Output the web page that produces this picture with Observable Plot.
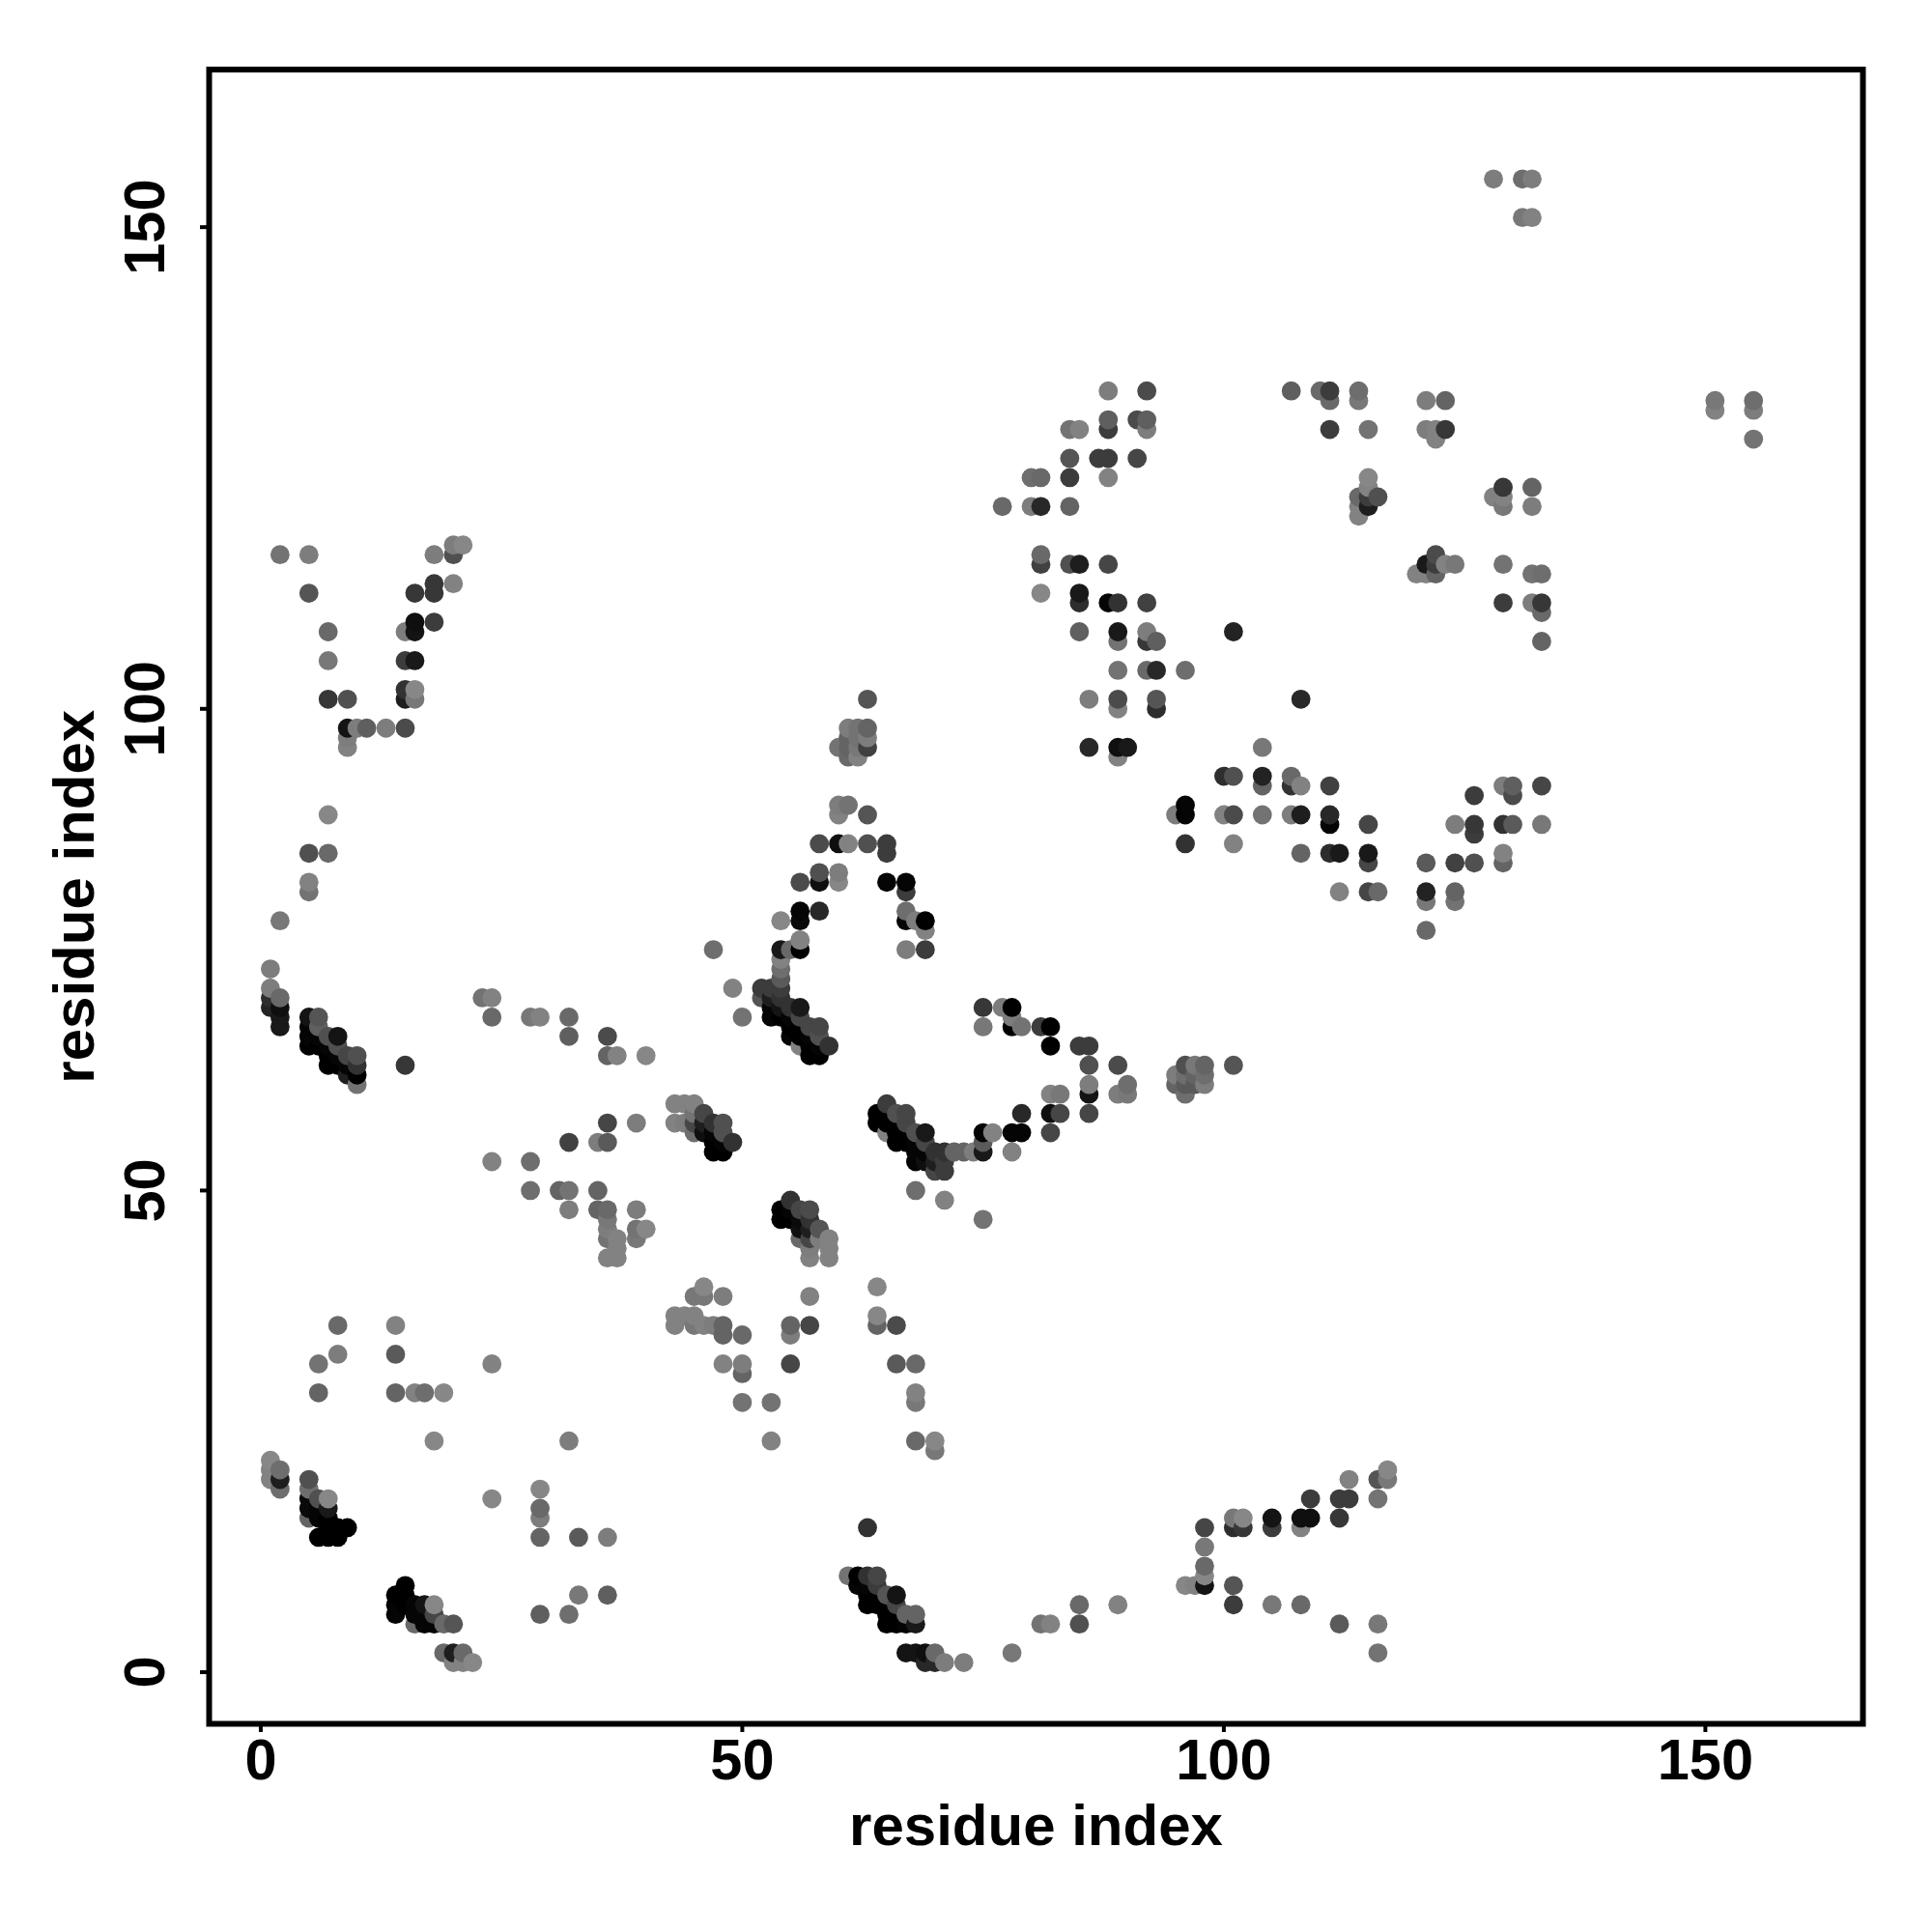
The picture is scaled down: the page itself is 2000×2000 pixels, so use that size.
<!DOCTYPE html>
<html>
<head>
<meta charset="utf-8">
<script src="https://cdn.jsdelivr.net/npm/d3@7"></script>
<script src="https://cdn.jsdelivr.net/npm/@observablehq/plot@0.6"></script>
<style>
html,body{margin:0;padding:0;background:#fff}
svg{display:block}
</style>
</head>
<body>
<div id="chart"></div>
<script>
const axisTicks = [0, 50, 100, 150];
const axisLabel = "residue index";
// each entry: [residue i, residue j, score]
const bottomLeft = [
[8,36,105],[14,36,130],[8,33,125],[6,32,115],[14,33,90],[24,32,130],[6,29,100],[14,29,100],[16,29,130],[17,29,110],[19,29,135],[18,24,135],[32,24,125],
[1,22,135],[1,21,130],[1,20,130],[2,21,110],[2,20,30],[2,19,110],[5,20,80],[5,19,110],[6,18,80],[7,18,135],[5,18,10],[5,17,10],[7,17,25],[6,17,5],[5,16,100],[6,16,5],[7,16,0],[8,15,0],[9,15,0],[7,15,0],[6,14,0],[7,14,0],[8,14,0],
[24,18,135],[29,19,135],[29,17,105],[29,16,125],[29,14,100],[33,14,90],[36,14,125],
[15,9,0],[14,8,0],[15,8,0],[14,7,5],[15,7,0],[16,7,5],[17,7,20],[18,7,135],[14,6,5],[16,6,5],[17,6,5],[18,6,70],[16,5,105],[17,5,5],[18,5,5],[19,5,105],[20,5,85],
[33,8,120],[36,8,95],[29,6,95],[32,6,110],[19,2,105],[20,2,30],[21,2,105],[20,1,130],[21,1,130],[22,1,135]
];
const midLower = [
[32,48,125],[35,48,100],[36,48,105],[36,47,120],[36,46,125],[36,45,115],[37,45,130],[37,44,130],[36,43,130],[37,43,130],[39,48,125],[39,46,115],[40,46,135],[39,45,120],
[46,40,135],[45,39,120],[46,39,120],[48,39,125],[43,37,130],[44,37,130],[45,37,130],[43,36,130],[45,36,120],[46,36,130],[47,36,125],[48,36,100],[48,35,100],[48,32,130],
[50,35,105],[57,39,130],[64,40,135],[55,36,100],[55,35,125],[57,36,70],[64,37,135],[64,36,100],[66,36,75],[50,32,125],[50,31,100],[55,32,70],[66,32,90],[68,32,105],[68,29,130],[68,28,120],[50,28,115],[53,28,115],[53,24,130],[68,24,105],[70,24,135],[70,23,120]
];
const bottomMiddle = [
[63,15,50],[61,10,115],[62,10,0],[63,10,50],[64,10,70],[62,9,5],[63,9,5],[64,9,60],[63,8,0],[64,8,0],[65,8,85],[66,8,20],[63,7,0],[64,7,0],[65,7,0],[66,7,70],[65,6,0],[66,6,0],[67,6,100],[68,6,100],[65,5,0],[66,5,0],[67,5,5],[68,5,25],
[67,2,20],[68,2,20],[69,2,15],[70,2,105],[69,1,40],[70,1,40],[71,1,125],[73,1,125],[78,2,120],[81,5,115],[82,5,130],[85,7,105],[85,5,80],[89,7,130]
];
const bottomRight = [
[98,15,70],[98,13,120],[98,11,105],[98,10,135],[98,9,20],[96,9,135],[97,9,130],
[101,16,120],[102,16,135],[101,15,45],[102,15,55],[105,16,20],[105,15,60],[108,16,15],[109,16,15],[108,15,130],[109,18,60],[112,18,60],[113,18,60],[112,16,55],[113,20,130],[116,20,85],[117,21,135],[117,20,120],[116,18,115],
[101,9,85],[101,7,60],[105,7,120],[108,7,105],[112,5,90],[116,5,120],[116,2,115]
];
const leftBand = [
[1,73,125],[1,71,125],[1,70,45],[2,70,105],[1,69,35],[2,69,15],[2,68,25],[2,67,25],[5,68,20],[6,68,85],[5,67,5],[6,67,95],[5,66,5],[6,66,5],[7,66,80],[8,66,20],[5,65,0],[6,65,0],[7,65,5],[8,65,80],[7,64,0],[8,64,5],[9,64,70],[10,64,80],[7,63,0],[8,63,0],[9,63,5],[10,63,50],[9,62,30],[10,62,0],[10,61,115],[15,63,55],
[23,70,115],[24,70,130],[24,68,105],[28,68,120],[29,68,130],[32,68,105],[32,66,95],[36,66,75],[36,64,100],[37,64,130],[40,64,135],
[36,57,70],[39,57,125],[32,55,65],[35,55,125],[36,55,90],[24,53,130],[28,53,110],[28,50,110],[31,50,100],[32,50,115],[35,50,100]
];
const centreBands = [
[47,75,110],[49,71,130],[50,68,115],[54,75,25],[55,75,105],[56,76,130],[56,75,0],[54,74,130],[54,73,110],[54,72,90],[52,71,60],[53,71,60],[54,71,60],[52,70,85],[53,70,30],[54,70,50],[56,69,25],[53,69,5],[54,69,20],[55,69,50],[53,68,5],[54,68,0],[55,68,5],[56,68,70],[55,67,0],[56,67,0],[57,67,70],[58,67,70],[55,66,5],[56,66,0],[57,66,5],[58,66,80],[56,65,130],[57,65,0],[58,65,5],[59,65,50],[57,64,0],[58,64,0],
[43,59,130],[44,59,130],[45,59,130],[46,58,70],[45,58,115],[43,57,130],[44,57,125],[45,57,70],[46,57,30],[47,57,50],[48,57,80],[45,56,110],[46,56,15],[47,56,5],[48,56,80],[47,55,0],[48,55,5],[49,55,50],[47,54,0],[48,54,0],
[55,49,50],[54,48,0],[55,48,5],[56,48,70],[57,48,75],[54,47,0],[55,47,0],[56,47,10],[57,47,50],[56,46,15],[57,46,30],[58,46,85],[56,45,105],[57,45,70],[58,45,125],[59,45,130],[57,44,125],[59,44,130],[57,43,130],[59,43,130]
];
const rightBand = [
[65,59,60],[64,58,0],[65,58,0],[66,58,80],[67,58,70],[64,57,0],[65,57,0],[66,57,0],[67,57,70],[65,56,130],[66,56,0],[67,56,0],[68,56,80],[69,56,25],[66,55,0],[67,55,0],[68,55,5],[69,55,70],[68,54,5],[69,54,5],[70,54,50],[71,54,50],[72,54,100],[73,54,100],[74,54,125],[68,53,5],[69,53,15],[70,53,30],[71,53,60],[70,52,70],[71,52,60],[68,50,110],[71,49,130],[75,47,115],
[75,69,55],[77,69,125],[78,69,0],[75,67,120],[78,68,125],[78,67,0],[79,67,115],[81,67,60],[82,67,0],[82,65,0],[85,65,60],[86,65,60],[86,63,80],[89,63,75],[86,61,125],[86,60,20],[82,60,130],[83,60,120],[89,60,125],[90,60,120],[90,61,110],[86,58,70],[79,58,40],[82,58,15],[83,58,70],[75,56,5],[76,56,130],[78,56,5],[79,56,5],[82,56,70],[75,55,90],[75,54,25],[78,54,130],
[96,63,80],[97,63,120],[98,63,100],[95,62,125],[96,62,110],[97,62,100],[98,62,110],[95,61,100],[96,61,90],[97,61,90],[98,61,125],[96,60,110],[101,63,85]
];
const peak = [
[63,101,85],[61,98,125],[62,98,115],[63,98,100],[61,97,100],[62,97,115],[63,97,125],[60,96,115],[61,96,100],[62,96,120],[63,96,65],[61,95,105],[62,95,130],[60,90,125],[61,90,115],[60,89,130],[63,89,85],[58,86,75],[60,86,15],[61,86,130],[63,86,80],[65,86,60],[65,85,60],[58,83,80],[60,83,125],[58,82,15],[60,82,135],[56,82,75],[65,82,5],[67,82,5],[67,81,60],[56,79,5],[58,79,40],[67,79,110],[56,78,10],[54,78,135],[67,78,5],[68,78,125],[69,78,0],[69,77,130],[56,76,130],[67,75,125],[69,75,60]
];
const topLeft = [
[2,116,115],[5,116,125],[5,112,85],[7,108,105],[7,105,120],[7,101,55],[9,101,80],[9,98,20],[10,98,125],[11,98,95],[13,98,125],[15,98,75],[9,97,125],[9,96,130],[7,89,135],[5,85,80],[7,85,105],[5,82,130],[5,81,115],[2,78,120],
[18,116,125],[20,116,80],[20,117,125],[21,117,135],[16,112,55],[18,113,55],[18,112,55],[20,113,130],[16,109,15],[18,109,60],[16,108,20],[15,108,125],[15,105,60],[16,105,25],[15,102,50],[16,102,135],[15,101,30],[16,101,120]
];
const rightMiddle = [
[104,96,120],[100,93,45],[101,93,80],[104,93,35],[104,92,100],[107,93,105],[107,92,50],[108,92,130],[111,92,65],[96,90,5],[96,89,5],[95,89,125],[100,89,130],[101,89,75],[104,89,115],[107,89,125],[108,89,30],[111,89,40],[111,88,5],[115,88,70],[96,86,50],[101,86,130],[108,85,100],[111,85,45],[112,85,25],[115,85,25],[115,84,70],[112,81,130],[115,81,70],[116,81,105],
[121,84,90],[124,84,65],[126,84,80],[129,84,100],[129,85,130],[121,81,35],[121,80,120],[124,81,100],[124,80,115],[121,77,105],[126,91,60],[129,92,125],[130,92,95],[130,91,75],[133,92,70],[124,88,125],[126,88,55],[126,87,60],[129,88,50],[130,88,90],[133,88,120]
];
const upperMiddle = [
[88,133,125],[92,133,75],[88,130,95],[88,129,60],[91,130,75],[92,130,95],[92,129,125],[84,129,115],[85,129,130],[84,126,85],[87,126,60],[88,126,60],[91,126,70],[80,124,110],[81,124,105],[84,124,60],[88,124,130],[77,121,105],[80,121,125],[81,121,40],[84,121,100],
[81,116,105],[81,115,65],[84,115,80],[85,115,30],[88,115,70],[81,112,135],[85,112,25],[85,111,45],[88,111,5],[89,111,50],[92,111,65],[85,108,95],[89,108,25],[89,107,115],[92,108,125],[92,107,55],[93,107,95],[101,108,35],[89,104,115],[92,104,105],[93,104,40],[96,104,110],[86,101,125],[89,101,75],[89,100,130],[93,101,85],[93,100,45],[86,96,40],[89,96,15],[90,96,25],[89,95,130],[108,101,40]
];
const upperRight = [
[107,133,95],[110,133,105],[111,133,60],[111,132,105],[114,133,110],[114,132,120],[111,129,60],[115,129,115],[121,132,125],[123,132,100],[121,129,125],[122,129,130],[123,129,55],[122,128,130],
[115,124,135],[115,123,130],[114,122,105],[115,122,60],[116,122,80],[114,121,130],[115,121,30],[114,120,130],[129,123,55],[132,123,100],[128,122,130],[129,122,130],[129,121,120],[132,121,125],
[122,116,75],[121,115,25],[122,115,60],[123,115,130],[124,115,120],[120,114,130],[121,114,130],[122,114,100],[129,115,115],[132,114,115],[133,114,110],[129,111,60],[132,111,125],[133,111,55],[133,110,105],[133,107,100],
[128,155,125],[131,155,110],[132,155,125],[131,151,120],[132,151,130],[151,132,120],[151,131,130],[155,132,110],[155,131,125],[155,128,115]
];

const contacts = d3.sort(
  [bottomLeft, midLower, bottomMiddle, bottomRight, leftBand, centreBands, rightBand, peak, topLeft, rightMiddle, upperMiddle, upperRight]
    .flat().map(([i, j, score]) => ({i, j, score})),
  d => d.i, d => d.j
);

const chart = Plot.plot({
  width: 2000,
  height: 2000,
  marginLeft: 216,
  marginRight: 72,
  marginTop: 71.5,
  marginBottom: 216,
  style: {fontFamily: "'Liberation Sans', Arial, sans-serif", fontWeight: "bold", color: "#000", background: "#fff", overflow: "visible"},
  x: {domain: [-5.36, 166.36]},
  y: {domain: [-5.36, 166.36]},
  color: {type: "linear", domain: [0, 136], range: ["#000000", "#888888"]},
  marks: [
    Plot.dot(contacts, {x: "i", y: "j", fill: "score", r: 9.9, stroke: "none"}),
    Plot.frame({stroke: "#000", strokeWidth: 6}),
    Plot.axisX({ticks: axisTicks, tickSize: 9, tickPadding: 6, strokeWidth: 4, stroke: "#000", fill: "#000", fontSize: 59.5, label: null, tickFormat: d => String(d)}),
    Plot.axisY({ticks: axisTicks, tickSize: 9, tickPadding: 38, strokeWidth: 4, stroke: "#000", fill: "#000", fontSize: 59.5, label: null, tickRotate: -90, textAnchor: "middle", tickFormat: d => String(d)}),
    Plot.text([axisLabel], {frameAnchor: "bottom", dy: 125, fontSize: 60, fontWeight: "bold", fill: "#000", lineAnchor: "bottom"}),
    Plot.text([axisLabel], {frameAnchor: "left", dx: -120, rotate: -90, textAnchor: "middle", fontSize: 60, fontWeight: "bold", fill: "#000", lineAnchor: "bottom"})
  ]
});
document.getElementById("chart").appendChild(chart);
</script>
</body>
</html>
